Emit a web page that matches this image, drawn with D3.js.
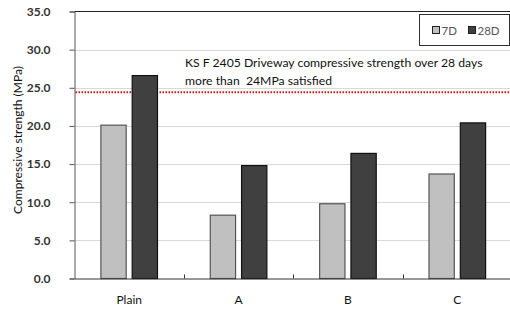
<!DOCTYPE html>
<html>
<head>
<meta charset="utf-8">
<script src="https://cdn.jsdelivr.net/npm/d3@7"></script>
<style>
body { margin: 0; background: #fff; }
text { font-family: Lato, "Liberation Sans", sans-serif; white-space: pre; }
</style>
</head>
<body>
<svg width="510" height="314"></svg>
<script>
// data
var categories = ["Plain", "A", "B", "C"];
var seriesNames = ["7D", "28D"];
var values7D = [20.1, 8.3, 9.8, 13.7];
var values28D = [26.6, 14.8, 16.4, 20.4];
var yTicks = [0, 5, 10, 15, 20, 25, 30, 35];
var limitValue = 24.4;
var noteLines = ["KS F 2405 Driveway compressive strength over 28 days", "more than  24MPa satisfied"];

var svgWidth = 510, svgHeight = 314;
var plotLeft = 74.5, plotTop = 11.5, plotBottom = 278.5, plotRight = 512;

var svg = d3.select("svg");

var x = d3.scaleBand().domain(categories).range([plotLeft, plotRight]);
var y = d3.scaleLinear().domain([0, 35]).range([plotBottom, plotTop]);
var barW = 25.3, gap = 6;
var colors = {"7D": "#c0c0c0", "28D": "#404040"};
var strokes = {"7D": "#555", "28D": "#111"};

// gridlines
svg.append("g").selectAll("line")
    .data(yTicks.filter(function(d) { return d > 0 && d < 35; }))
    .enter().append("line")
    .attr("x1", plotLeft).attr("x2", svgWidth)
    .attr("y1", function(d) { return Math.round(y(d)) + 0.5; })
    .attr("y2", function(d) { return Math.round(y(d)) + 0.5; })
    .attr("stroke", "#d9d9d9");

// top border
svg.append("line").attr("x1", plotLeft).attr("x2", svgWidth)
    .attr("y1", y(35)).attr("y2", y(35)).attr("stroke", "#222");

// limit line
svg.append("line").attr("x1", plotLeft + 1).attr("x2", svgWidth)
    .attr("y1", y(limitValue)).attr("y2", y(limitValue))
    .attr("stroke", "#e01010").attr("stroke-width", 2)
    .attr("stroke-dasharray", "1.5,1.5");

// bars
var rows = categories.map(function(c, i) {
  return [{cat: c, s: "7D", v: values7D[i]}, {cat: c, s: "28D", v: values28D[i]}];
});
svg.append("g").selectAll("g").data(rows).enter().append("g")
  .selectAll("rect").data(function(d) { return d; }).enter().append("rect")
    .attr("x", function(d) {
      var c = x(d.cat) + x.bandwidth() / 2;
      return d.s === "7D" ? c - gap / 2 - barW : c + gap / 2;
    })
    .attr("y", function(d) { return y(d.v); })
    .attr("width", barW)
    .attr("height", function(d) { return y(0) - y(d.v); })
    .attr("fill", function(d) { return colors[d.s]; })
    .attr("stroke", function(d) { return strokes[d.s]; })
    .attr("stroke-width", 1.2);

// y axis
var yAxis = svg.append("g").attr("transform", "translate(" + plotLeft + ",0)")
    .call(d3.axisLeft(y).tickValues(yTicks).tickSize(5).tickFormat(d3.format(".1f")));
yAxis.select(".domain").attr("stroke", "#555");
yAxis.selectAll(".tick line").attr("stroke", "#555");
yAxis.selectAll("text").attr("x", -24).attr("font-size", "12px")
    .attr("font-weight", "bold").attr("fill", "#333").attr("font-family", "Lato");

// x axis
var xAxis = svg.append("g").attr("transform", "translate(0," + plotBottom + ")")
    .call(d3.axisBottom(x).tickSize(0).tickPadding(17));
xAxis.select(".domain").attr("stroke", "#333");
xAxis.selectAll("text").attr("font-size", "12px").attr("fill", "#111").attr("font-family", "Lato");
svg.append("g").selectAll("line")
    .data(categories.slice(1))
    .enter().append("line")
    .attr("x1", function(d) { return Math.round(x(d)) + 0.5; })
    .attr("x2", function(d) { return Math.round(x(d)) + 0.5; })
    .attr("y1", plotBottom).attr("y2", plotBottom - 4).attr("stroke", "#333");

// y title
svg.append("text")
    .attr("transform", "translate(22,140) rotate(-90)")
    .attr("text-anchor", "middle").attr("font-size", "12px").attr("fill", "#111")
    .text("Compressive strength (MPa)");

// note
svg.append("g").selectAll("text").data(noteLines).enter().append("text")
    .attr("x", 185).attr("y", function(d, i) { return 66.5 + i * 18.5; })
    .attr("font-size", "12.2px").attr("fill", "#111")
    .text(function(d) { return d; });

// legend
var lg = svg.append("g");
lg.append("rect").attr("x", 419.5).attr("y", 14.5).attr("width", 90).attr("height", 31)
    .attr("fill", "#fff").attr("stroke", "#333");
var items = lg.selectAll("g").data(seriesNames).enter().append("g")
    .attr("transform", function(d, i) { return "translate(" + (432.5 + i * 36) + ",0)"; });
items.append("rect").attr("x", 0).attr("y", 26.5).attr("width", 7).attr("height", 7)
    .attr("fill", function(d) { return colors[d]; }).attr("stroke", "#222");
items.append("text").attr("x", 9).attr("y", 34.5).attr("font-size", "11.5px").attr("fill", "#555")
    .text(function(d) { return d; });
</script>
</body>
</html>
